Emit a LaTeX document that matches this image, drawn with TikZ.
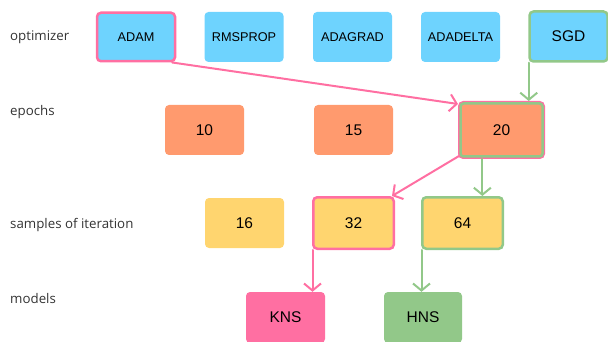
\documentclass[tikz,border=0pt]{standalone}
\usepackage{fontspec}
\setmainfont{Liberation Sans}
\newfontfamily\labelfont{Open Sans}
\usetikzlibrary{arrows.meta,calc}
\definecolor{cblue}{HTML}{6ED3FE}
\definecolor{corange}{HTML}{FF9A6E}
\definecolor{cyellow}{HTML}{FFD56F}
\definecolor{cpink}{HTML}{FF6FA2}
\definecolor{cgreen}{HTML}{92C889}
\definecolor{ctext}{HTML}{333333}
\tikzset{
  box/.style={rounded corners=4pt, inner sep=0pt, text=black},
  bluebox/.style={box, fill=cblue, minimum width=79pt, minimum height=50pt},
  orangebox/.style={box, fill=corange, minimum width=79pt, minimum height=50pt},
  yellowbox/.style={box, fill=cyellow, minimum width=79pt, minimum height=50pt},
  pinkedge/.style={draw=cpink, line width=2.5pt},
  greenedge/.style={draw=cgreen, line width=2.5pt},
  rowlabel/.style={anchor=mid west, inner sep=0pt, text=ctext, font=\labelfont\fontsize{13.3}{15}\selectfont},
  small/.style={font=\fontsize{12.7}{14}\selectfont},
  big/.style={font=\fontsize{15.5}{17}\selectfont},
  link/.style={line width=2pt, line cap=round, -{Straight Barb[length=7pt,width=17pt,line width=2pt]}},
  pinklink/.style={link, draw=cpink},
  greenlink/.style={link, draw=cgreen},
}
\begin{document}
\begin{tikzpicture}[x=1pt,y=-1pt]
\useasboundingbox (0,0) rectangle (608,342);
% row labels
\node[rowlabel] (loptimizer) at (10,38) {optimizer};
\node[rowlabel] (lepochs) at (10,113) {epochs};
\node[rowlabel] (lsamples) at (10,226) {samples of iteration};
\node[rowlabel] (lmodels) at (10,301) {models};
% optimizer row
\node[bluebox, pinkedge, small, minimum width=78pt, minimum height=48.5pt] (adam) at (136,37) {ADAM};
\node[bluebox, small] (rms) at (244,37) {RMSPROP};
\node[bluebox, small] (adagrad) at (352.5,37) {ADAGRAD};
\node[bluebox, small] (adadelta) at (460.5,37) {ADADELTA};
\node[bluebox, greenedge, big, minimum width=78pt, minimum height=50pt] (sgd) at (568.5,36.5) {SGD};
% epochs row
\node[orangebox, big] (e10) at (204.5,130) {10};
\node[orangebox, big] (e15) at (353.5,130) {15};
\node[orangebox, pinkedge, big, minimum width=84.5pt, minimum height=55.5pt] (e20) at (501.5,130) {20};
\draw[cgreen, line width=2.5pt, rounded corners=3pt] ($(e20.north west)+(2.5,2.5)$) rectangle ($(e20.south east)+(-2.5,-2.5)$);
% samples row
\node[yellowbox, big] (s16) at (244.5,223) {16};
\node[yellowbox, pinkedge, big, minimum width=80.5pt, minimum height=51.5pt] (s32) at (353.5,223) {32};
\node[yellowbox, greenedge, big, minimum width=80.5pt, minimum height=51.5pt] (s64) at (462.5,223) {64};
% models row
\node[box, fill=cpink, big, minimum width=79pt, minimum height=51pt] (kns) at (285.5,317.5) {KNS};
\node[box, fill=cgreen, big, minimum width=78pt, minimum height=51pt] (hns) at (423,317.5) {HNS};
% connector anchors
\coordinate (adamout) at ($(adam.south east)+(-4,0)$);
\coordinate (e20inpk) at ($(e20.north west)+(0,3)$);
\coordinate (sgdout) at ($(sgd.south west)+(0.5,0)$);
\coordinate (e20outpk) at ($(e20.south west)+(1,-3)$);
\coordinate (s32inpk) at ($(s32.north east)+(-3,0)$);
\coordinate (e20outgr) at ($(e20.south west)!0.28!(e20.south east)$);
\coordinate (s32out) at ($(s32.south west)+(0.5,0)$);
\coordinate (s64out) at ($(s64.south west)+(0.5,0)$);
% connectors
\draw[pinklink] (adamout) -- (e20inpk);
\draw[greenlink] (sgdout) -- (sgdout |- e20.north);
\draw[pinklink] (e20outpk) -- (s32inpk);
\draw[greenlink] (e20outgr) -- (e20outgr |- s64.north);
\draw[pinklink] (s32out) -- (s32out |- kns.north);
\draw[greenlink] (s64out) -- (s64out |- hns.north);
\end{tikzpicture}
\end{document}
